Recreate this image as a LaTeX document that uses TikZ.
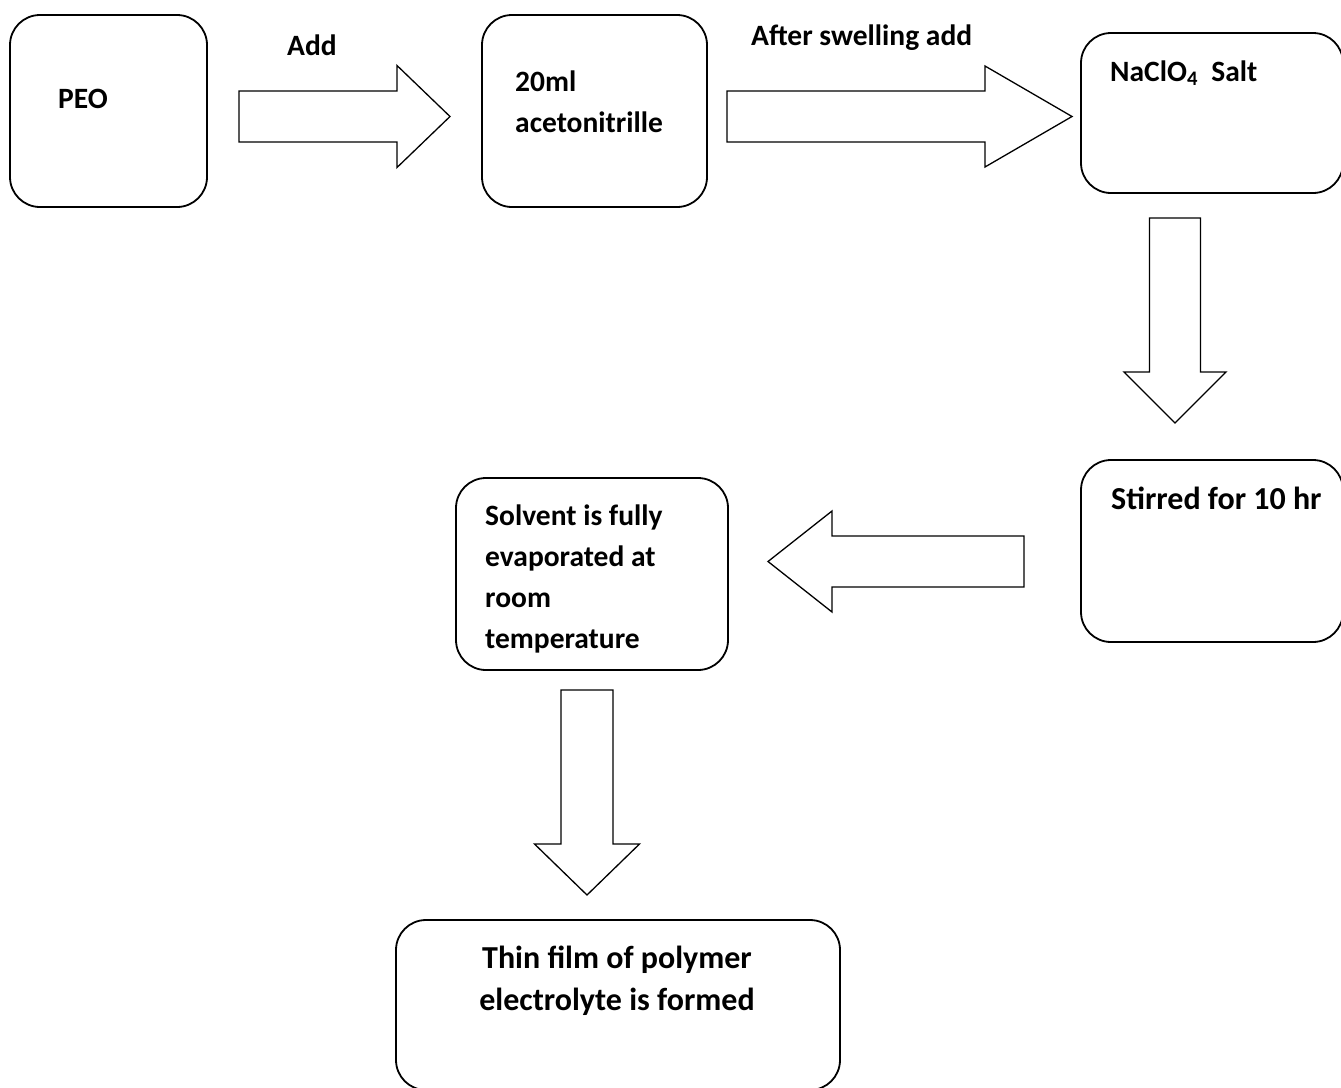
\documentclass[tikz,border=0pt]{standalone}
\usepackage{fontspec}
\setmainfont{Carlito}
\usetikzlibrary{positioning}

\tikzset{
  stepbox/.style={draw, rounded corners=30pt, line width=1.8pt, inner sep=0pt},
  lbl/.style={anchor=base west, inner sep=0pt},
  biglbl/.style={font=\fontsize{32pt}{41pt}\selectfont\bfseries},
  arrowline/.style={line width=1.3pt, line join=miter},
  % block arrow: length, head length, half body, half head
  pics/blockarr/.style n args={4}{code={
    \draw[arrowline] (0,-#3) -- (#1-#2,-#3) -- (#1-#2,-#4) -- (#1,0)
      -- (#1-#2,#4) -- (#1-#2,#3) -- (0,#3) -- cycle;
  }}
}

\begin{document}
\begin{tikzpicture}[x=1pt, y=-1pt, font=\fontsize{29.5pt}{41pt}\selectfont\bfseries]

      \useasboundingbox (0,0) rectangle (1341,1087);
      \clip (0,0) rectangle (1341,1087);

      % boxes
      \node[stepbox, minimum width=197pt, minimum height=192pt] (peo) at (108.5,111) {};
      \node[stepbox, minimum width=225pt, minimum height=192pt] (acn) at (594.5,111) {};
      \node[stepbox, minimum width=262pt, minimum height=160pt] (salt) at (1212,113) {};
      \node[stepbox, minimum width=262pt, minimum height=182pt] (stir) at (1212,551) {};
      \node[stepbox, minimum width=272pt, minimum height=192pt] (evap) at (592,574) {};
      \node[stepbox, minimum width=444pt, minimum height=170pt] (film) at (618,1005) {};

      % box texts
      \node[lbl] (peotext) at (58,108) {PEO};
      \node[lbl] (acntext) at (515,91) {20ml};
      \node[lbl] (acntext2) at (515,132) {acetonitrille};
      \node[lbl] (salttext) at (1110,81) {NaClO\textsubscript{4}\ \ Salt};
      \node[lbl, biglbl] (stirtext) at (1111,509) {Stirred for 10 hr};
      \node[lbl] (evaptext) at (485,525) {Solvent is fully};
      \node[lbl] (evaptext2) at (485,566) {evaporated at};
      \node[lbl] (evaptext3) at (485,607) {room};
      \node[lbl] (evaptext4) at (485,648) {temperature};
      \node[biglbl, anchor=base, inner sep=0pt] (filmtext) at (617,968) {Thin film of polymer};
      \node[biglbl, anchor=base, inner sep=0pt] (filmtext2) at (617,1010) {electrolyte is formed};

      % arrow labels
      \node[lbl] (addlbl) at (287,55) {Add};
      \node[lbl] (swelllbl) at (751,45) {After swelling add};

      % block arrows
      \pic (addarrow) at (239,116.5) {blockarr={211}{53}{25.5}{51}};
      \pic (swellarrow) at (727,116.5) {blockarr={345}{87}{25.5}{50.5}};
      \pic[rotate=-90] (saltarrow) at (1175,218) {blockarr={205}{51}{25.5}{51}};
      \pic[rotate=180] (stirarrow) at (1024,561.5) {blockarr={256}{64}{25.5}{50.5}};
      \pic[rotate=-90] (evaparrow) at (587,690) {blockarr={205}{51}{26}{52.5}};

\end{tikzpicture}
\end{document}
